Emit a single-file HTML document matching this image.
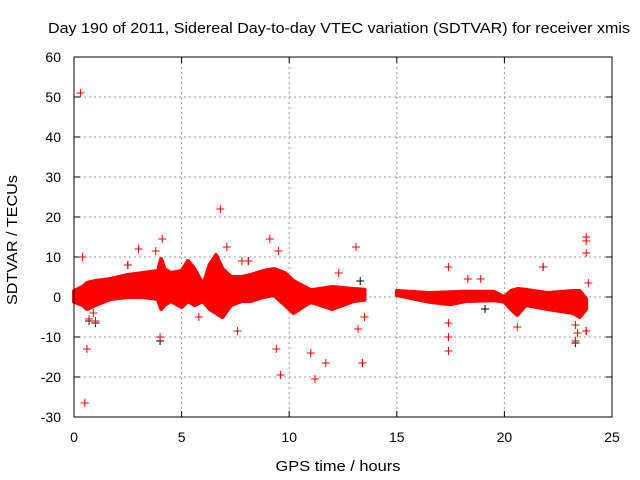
<!DOCTYPE html>
<html><head><meta charset="utf-8"><style>
body{margin:0;background:#fff;}
svg{display:block;font-family:"Liberation Sans",sans-serif;}
</style></head><body>
<svg id="chart" width="640" height="480">
<rect width="640" height="480" fill="#fff"/>
<text x="339" y="33" font-size="15" text-anchor="middle" textLength="582" lengthAdjust="spacingAndGlyphs">Day 190 of 2011, Sidereal Day-to-day VTEC variation (SDTVAR) for receiver xmis</text>
<text x="17" y="240" font-size="15" text-anchor="middle" textLength="130" lengthAdjust="spacingAndGlyphs" transform="rotate(-90 17 240)">SDTVAR / TECUs</text>
<text x="338" y="471" font-size="15" text-anchor="middle" textLength="125" lengthAdjust="spacingAndGlyphs">GPS time / hours</text>
<g id="grid"></g>
<g id="ticks"></g>
<g id="band"></g>
<g id="pts"></g>
<rect x="74" y="57" width="538" height="360" fill="none" stroke="#000" stroke-width="1"/>
</svg>
<script>
const xTicks=[0,5,10,15,20,25];
const yTicks=[-30,-20,-10,0,10,20,30,40,50,60];
const seg1Hours=[0,0.4,0.6,1.0,1.7,2.5,3.2,3.9,4.05,4.2,4.5,5.0,5.3,5.6,6.0,6.3,6.6,6.9,7.3,7.8,8.2,8.8,9.3,9.8,10.2,11,12,13.0,13.5];
const seg1Upper=[1.5,2.5,3.5,4,4.5,5.5,6,6.5,9.5,7,6,6.5,9,7,3,8,10.5,7,5,5,5.5,6.5,7,6,4,1.7,2.5,2,1.8];
const seg1Lower=[-1.2,-2,-3,-2,-0.5,0,0,-0.5,-3,-2,-1,-2.5,-1,-2,-1,-3,-4,-5,-2,-1,-1,0,0.5,-2,-4,-1.2,-3,-1,-0.7];
const seg2Hours=[15,16.5,17.5,18.2,19.5,20,20.3,20.6,21,22,23.2,23.5,23.8];
const seg2Upper=[1.5,1,1.2,1.3,1.3,0,1.5,2,1.8,1,1.5,1.5,-0.5];
const seg2Lower=[0.5,-1.2,-1.8,-1,-0.8,-1.2,-3,-4.5,-2,-3,-4,-5,-3];
const outX=[0.3,0.5,0.6,6.8,3,9.1,9.5,9.4,9.6,11,11.2,11.7,13.1,13.4,13.2,13.5,17.4,17.4,17.4,17.4,20.6,21.8,23.8,23.8,23.8,23.8,23.9,23.3,4.1,3.8,4,5.8,7.6,1,0.7,2.5,0.4,12.3,18.9,18.3,10.3,8.1,7.1,7.8,23.4,23.3,0.9];
const outY=[51,-26.5,-13,22,12,14.5,11.5,-13,-19.5,-14,-20.5,-16.5,12.5,-16.5,-8,-5,7.5,-6.5,-10,-13.5,-7.5,7.5,15,14,11,-8.5,3.5,-11,14.5,11.5,-10,-5,-8.5,-6,-5.5,8,10,6,4.5,4.5,-2,9,12.5,9,-9,-7,-4];
const blackX=[0.7,1,4,2.5,8.1,13.3,19.1,21.8,23.3,23.8,13.4];
const blackY=[-6,-6.5,-11,8,9,4,-3,7.5,-11.5,-8.5,-16.5];
const X=v=>74+v*(538/25), Y=v=>297-v*4;
const NS='http://www.w3.org/2000/svg';
function mk(t,a,p){const e=document.createElementNS(NS,t);for(const k in a)e.setAttribute(k,a[k]);p.appendChild(e);return e;}
const grid=document.getElementById('grid'),ticks=document.getElementById('ticks');
xTicks.forEach(t=>{const x=X(t);
 if(t>0&&t<25){const l=mk('line',{x1:x,x2:x,y1:57,y2:417,stroke:'#999','stroke-dasharray':'2,3'},grid);
 }
 mk('line',{x1:x,x2:x,y1:417,y2:411,stroke:'#000'},ticks);mk('line',{x1:x,x2:x,y1:57,y2:63,stroke:'#000'},ticks);
 const tx=mk('text',{x:x,y:442,'font-size':14,'text-anchor':'middle'},ticks);tx.textContent=t;
 });
yTicks.forEach(t=>{const y=Y(t);
 if(t>-30&&t<60){const l=mk('line',{x1:74,x2:612,y1:y,y2:y,stroke:'#999','stroke-dasharray':'2,3'},grid);
 }
 mk('line',{x1:74,x2:80,y1:y,y2:y,stroke:'#000'},ticks);mk('line',{x1:612,x2:606,y1:y,y2:y,stroke:'#000'},ticks);
 const tx=mk('text',{x:61,y:y+5,'font-size':14,'text-anchor':'end'},ticks);tx.textContent=t;
 });
const band=document.getElementById('band');
function seg(h,u,l){let pts=h.map((v,i)=>X(v)+','+Y(u[i]));for(let i=h.length-1;i>=0;i--)pts.push(X(h[i])+','+Y(l[i]));
 const p=mk('polygon',{points:pts.join(' '),fill:'#f00',stroke:'#f00','stroke-width':4,'stroke-linejoin':'round'},band);
 }
seg(seg1Hours,seg1Upper,seg1Lower);seg(seg2Hours,seg2Upper,seg2Lower);
const pts=document.getElementById('pts');
function cross(x,y,c){const g=mk('path',{d:`M${x-4},${y}h8M${x},${y-4}v8`,stroke:c,'stroke-width':1},pts);return g;}
blackX.forEach((v,i)=>{const c=cross(X(v),Y(blackY[i]),'#000');
 });
outX.forEach((v,i)=>{const c=cross(X(v),Y(outY[i]),'#f00');
 });
</script>
</body></html>
